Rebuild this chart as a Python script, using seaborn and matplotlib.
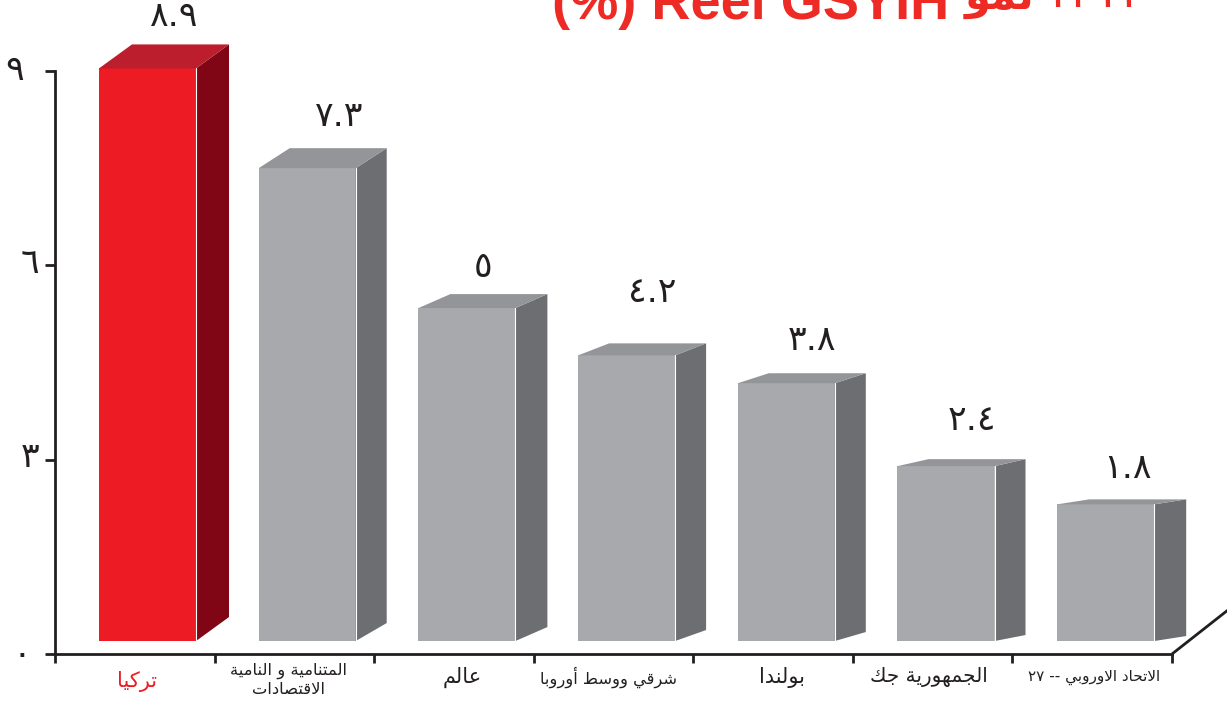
"""
Real GDP growth comparison - pseudo 3D bars on top of a seaborn barplot.
Arabic is shaped by hand because matplotlib has no text shaping of its own.
"""

import re
import unicodedata

import matplotlib.pyplot as plt
from matplotlib.patches import Polygon
import pandas as pd
import seaborn as sns

# ── Data ──────────────────────────────────────────────────────────────────────

regions = [
    "تركيا",
    "المتنامية و النامية\nالاقتصادات",
    "عالم",
    "شرقي ووسط أوروبا",
    "بولندا",
    "الجمهورية جك",
    "الاتحاد الاوروبي -- ٢٧",
]
value_labels = ["٨.٩", "٧.٣", "٥", "٤.٢", "٣.٨", "٢.٤", "١.٨"]
# bar heights, they are not quite to scale in the source
bar_heights = [8.84, 7.3, 5.14, 4.41, 3.98, 2.7, 2.11]
y_ticks = [0, 3, 6, 9]
y_tick_labels = ["٠", "٣", "٦", "٩"]
title_latin = "(%) Reel GSYIH"
title_arabic = "نمو"
title_digits = "١٢١٢"

# ── Style ─────────────────────────────────────────────────────────────────────

RED = "#ed1c24"
RED_SIDE = "#800515"
RED_TOP = "#bc1e2d"
GREY = "#a7a9ac"
GREY_SIDE = "#6d6e71"
GREY_TOP = "#939598"
INK = "#231f20"
TITLE_RED = "#ee2a24"

FIG_W, FIG_H = 1227, 705
AX_LEFT, AX_RIGHT, AX_TOP, AX_BOTTOM = 55, 1172, 71, 654
SLOT = 159.7    # pixels between bar centres
FIRST_BAR = 147.5
FLOOR = 0.2     # bars stand a little above the x axis

# perspective of the fake depth, in pixels
depth_x = [33, 31, 32, 31, 31, 31, 32]
depth_top = [24, 20, 14, 12, 10, 7, 5]
depth_base = [24, 18, 14, 11, 9, 6, 5]
label_size = [15, 11.8, 15, 11.7, 15, 14.4, 11]
label_nudge = [2, -6, 8, -5, 9, -4, 2]
label_y_px = [682, 680, 677, 677, 677, 677, 677]
value_nudge = [(26, -28), (31, -32), (16, -27), (26, -51), (26, -33), (26, -39), (22, -31)]
y_label_px = [(22, 655), (30, 457), (30, 263), (15, 70)]

sns.set_theme(style="white")
plt.rcParams["font.family"] = ["Liberation Sans", "DejaVu Sans"]


def _forms():
    table = {}
    for code in range(0xFE70, 0xFEFD):
        dec = unicodedata.decomposition(chr(code)).split()
        if len(dec) == 2 and dec[0] in ("<isolated>", "<final>", "<initial>", "<medial>"):
            table.setdefault(chr(int(dec[1], 16)), {})[dec[0]] = chr(code)
    return table


FORMS = _forms()
LAM_ALEF = {"isolated": "\ufefb", "final": "\ufefc"}


def shape(text):
    """Give back an Arabic string in presentation forms and visual order."""
    text = text.replace("\u0644\u0627", "\ue000")

    def joins_next(ch):
        return ch in FORMS and "<initial>" in FORMS[ch]

    def is_arabic(ch):
        return ch in FORMS or ch == "\ue000"

    out = []
    for i, ch in enumerate(text):
        prev_ch = text[i - 1] if i else ""
        next_ch = text[i + 1] if i + 1 < len(text) else ""
        after = joins_next(prev_ch)
        before = joins_next(ch) and is_arabic(next_ch)
        if ch == "\ue000":
            out.append(LAM_ALEF["final"] if after else LAM_ALEF["isolated"])
        elif ch in FORMS:
            forms = FORMS[ch]
            if after and before:
                out.append(forms["<medial>"])
            elif after:
                out.append(forms["<final>"])
            elif before:
                out.append(forms["<initial>"])
            else:
                out.append(forms["<isolated>"])
        else:
            out.append(ch)
    visual = "".join(out)[::-1]
    # digits keep their reading order
    return re.sub(r"[\u0660-\u0669]+", lambda m: m.group(0)[::-1], visual)


def shape_lines(text):
    return "\n".join(shape(line) for line in text.split("\n"))


def add_depth(ax, bar, dx, top_dy, base_dy, side_color, top_color):
    to_px = ax.transData.transform
    x0, y0 = bar.get_x(), bar.get_y()
    x1, y1 = x0 + bar.get_width(), y0 + bar.get_height()
    (lx, ty), (rx, by) = to_px((x0, y1)), to_px((x1, y0))
    back = ax.transData.inverted().transform
    side = [(rx, by), (rx + dx, by + base_dy), (rx + dx, ty + top_dy), (rx, ty)]
    top = [(lx, ty), (lx + dx, ty + top_dy), (rx + dx, ty + top_dy), (rx, ty)]
    ax.add_patch(Polygon(back(side), closed=True, fc=side_color, ec="none", clip_on=False, zorder=3))
    ax.add_patch(Polygon(back(top), closed=True, fc=top_color, ec="none", clip_on=False, zorder=3))
    ax.plot([x1, x1], [y0, y1], color="white", lw=0.8, zorder=4, clip_on=False)
    return (lx + rx) / 2, ty + top_dy


# ── Chart ─────────────────────────────────────────────────────────────────────

df = pd.DataFrame({"region": regions, "height": bar_heights})

fig = plt.figure(figsize=(FIG_W / 100, FIG_H / 100), dpi=100)
ax = fig.add_axes([
    AX_LEFT / FIG_W, 1 - AX_BOTTOM / FIG_H,
    (AX_RIGHT - AX_LEFT) / FIG_W, (AX_BOTTOM - AX_TOP) / FIG_H,
])

sns.barplot(
    data=df, x="region", y="height", hue="region", legend=False,
    palette=[RED] + [GREY] * (len(regions) - 1), saturation=1,
    width=97 / SLOT, bottom=FLOOR, linewidth=0, ax=ax, zorder=2, clip_on=False,
)
ax.set_xlim((AX_LEFT - FIRST_BAR) / SLOT, (AX_RIGHT - FIRST_BAR) / SLOT)
ax.set_ylim(0, 9)
ax.set_xlabel("")
ax.set_ylabel("")

for side in ("top", "right"):
    ax.spines[side].set_visible(False)
for side in ("left", "bottom"):
    ax.spines[side].set_color(INK)
    ax.spines[side].set_linewidth(2)

# x ticks fence off the categories, labels sit between them
slot_w = (AX_RIGHT - AX_LEFT) / len(regions) / SLOT
left = ax.get_xlim()[0]
edges = [left + i * slot_w for i in range(len(regions) + 1)]
ax.set_xticks(edges)
ax.set_xticklabels([])
ax.tick_params(axis="x", length=6.5, width=2, color=INK, bottom=True)
ax.set_yticks(y_ticks)
ax.set_yticklabels([])
ax.tick_params(axis="y", length=7.5, width=2, color=INK, left=True)

per_px = 9 / (AX_BOTTOM - AX_TOP)

for i, name in enumerate(regions):
    ax.text(
        (edges[i] + edges[i + 1]) / 2 + label_nudge[i] / SLOT, -(label_y_px[i] - AX_BOTTOM) * per_px,
        shape_lines(name), ha="center", va="center", clip_on=False,
        fontsize=label_size[i], color=RED if i == 0 else INK, linespacing=1.25,
        family="DejaVu Sans",
    )

# y tick labels do not line up in the source
for label, (px, py) in zip(y_tick_labels, y_label_px):
    fig.text(px / FIG_W, 1 - py / FIG_H, label, ha="center", va="center",
             fontsize=25, color=INK, family="DejaVu Sans")

# depth and value labels
fig.canvas.draw()
for i, bar in enumerate(ax.patches):
    side_c, top_c = (RED_SIDE, RED_TOP) if i == 0 else (GREY_SIDE, GREY_TOP)
    cx, back_y = add_depth(ax, bar, depth_x[i], depth_top[i], depth_base[i], side_c, top_c)
    nx, ny = value_nudge[i]
    fig.text((cx + nx) / FIG_W, (back_y - ny) / FIG_H, value_labels[i],
             ha="center", va="center", fontsize=25, color=INK, family="DejaVu Sans")

# the floor edge runs off towards the right border
to_data = ax.transData.inverted().transform
fx, fy = to_data((AX_RIGHT, FIG_H - AX_BOTTOM))
ex, ey = to_data((AX_RIGHT + 56, FIG_H - AX_BOTTOM + 44))
ax.plot([fx, ex], [fy, ey], color=INK, lw=2, clip_on=False, solid_capstyle="butt")

# title runs off the top of the page, the source is cropped there
title_style = dict(color=TITLE_RED, va="baseline", ha="left")
fig.text(552 / FIG_W, 1 - 19 / FIG_H, title_latin, fontsize=39, fontweight="bold",
         family="Liberation Sans", **title_style)
fig.text(965 / FIG_W, 1 - 9 / FIG_H, shape(title_arabic), fontsize=30, fontweight="bold",
         family="DejaVu Sans", **title_style)
fig.text(1044 / FIG_W, 1 - 7 / FIG_H, title_digits, fontsize=34,
         family="DejaVu Sans", **title_style)

fig.savefig("out.png", dpi=100)
